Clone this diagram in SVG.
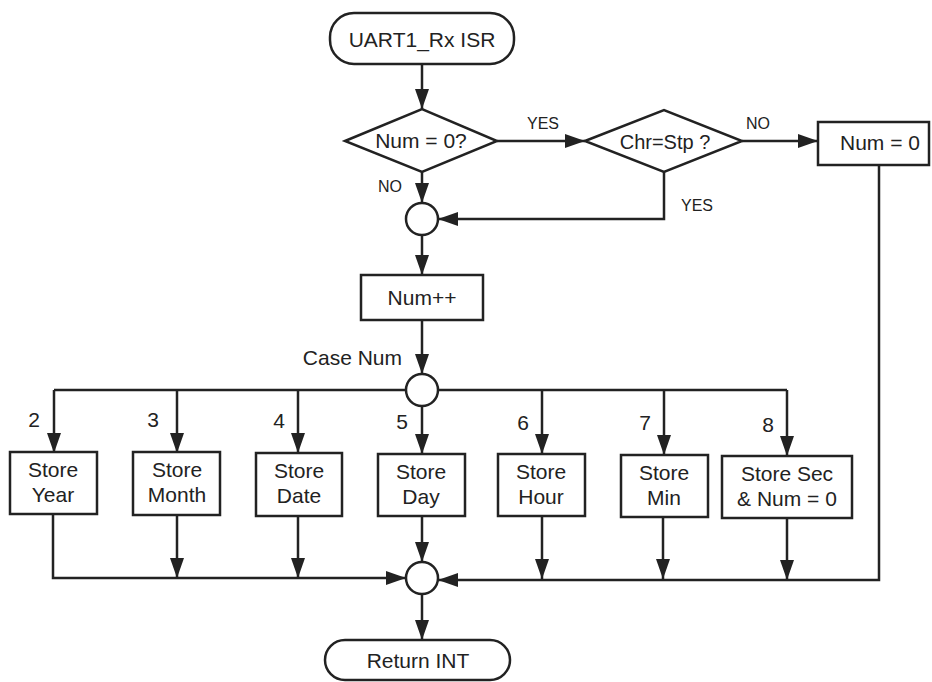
<svg xmlns="http://www.w3.org/2000/svg" width="932" height="682" viewBox="0 0 932 682">
  <style>
    .shape { fill: #ffffff; stroke: #222222; stroke-width: 2.5; }
    .wire { fill: none; stroke: #222222; stroke-width: 2.5; }
    .arrow { marker-end: url(#head); }
    text { font-family: "Liberation Sans", Arial, sans-serif; fill: #222222; }
    .t { font-size: 21px; text-anchor: middle; }
    .lbl { font-size: 16px; text-anchor: middle; }
  </style>
  <defs>
    <marker id="head" markerUnits="userSpaceOnUse" markerWidth="20" markerHeight="14" refX="20" refY="7" orient="auto">
      <path d="M0,0 L20,7 L0,14 z" fill="#222222"/>
    </marker>
  </defs>
  <rect width="932" height="682" fill="#ffffff"/>

  <!-- connectors -->
  <g id="connectors">
    <path class="wire arrow" d="M422,64 V109"/>
    <path class="wire arrow" d="M497,141 H585"/>
    <path class="wire arrow" d="M742,141 H818"/>
    <path class="wire arrow" d="M422,172 V203"/>
    <path class="wire arrow" d="M664,172 V219 H438"/>
    <path class="wire arrow" d="M422,235 V275"/>
    <path class="wire arrow" d="M422,320 V374"/>
    <!-- case branches -->
    <path class="wire" d="M406,390 H54"/>
    <path class="wire" d="M438,390 H787"/>
    <path class="wire arrow" d="M54,390 V453"/>
    <path class="wire arrow" d="M177,390 V453"/>
    <path class="wire arrow" d="M298,390 V453"/>
    <path class="wire arrow" d="M422,406 V454"/>
    <path class="wire arrow" d="M542,390 V454"/>
    <path class="wire arrow" d="M664,390 V455"/>
    <path class="wire arrow" d="M787,390 V456"/>
    <!-- merge -->
    <path class="wire arrow" d="M53,514 V578 H406"/>
    <path class="wire arrow" d="M177,515 V578"/>
    <path class="wire arrow" d="M298,516 V578"/>
    <path class="wire arrow" d="M422,516 V562"/>
    <path class="wire arrow" d="M542,516 V579"/>
    <path class="wire arrow" d="M663,517 V579"/>
    <path class="wire arrow" d="M787,518 V580"/>
    <path class="wire arrow" d="M879,165 V580 H438"/>
    <path class="wire arrow" d="M422,594 V640"/>
  </g>

  <!-- connector labels -->
  <g id="labels">
    <text class="lbl" x="543" y="129">YES</text>
    <text class="lbl" x="390" y="192">NO</text>
    <text class="lbl" x="758" y="129">NO</text>
    <text class="lbl" x="697" y="211">YES</text>
    <text class="t" x="402" y="365" style="text-anchor:end">Case Num</text>
    <text class="t" x="34" y="427">2</text>
    <text class="t" x="153" y="427">3</text>
    <text class="t" x="279" y="428">4</text>
    <text class="t" x="402" y="429">5</text>
    <text class="t" x="523" y="430">6</text>
    <text class="t" x="645" y="430">7</text>
    <text class="t" x="768" y="432">8</text>
  </g>

  <g id="start">
    <rect class="shape" x="330" y="13" width="184" height="51" rx="24"/>
    <text class="t" x="422" y="47">UART1_Rx ISR</text>
  </g>

  <g id="check-num">
    <polygon class="shape" points="345,141 422,109 497,141 422,172"/>
    <text class="t" x="421" y="148">Num = 0?</text>
  </g>

  <g id="check-chr">
    <polygon class="shape" points="585,141 664,110 742,141 664,172"/>
    <text class="t" x="665" y="149" style="font-size:20px">Chr=Stp ?</text>
  </g>

  <g id="reset-num">
    <rect class="shape" x="818" y="122" width="111" height="43"/>
    <text class="t" x="880" y="150">Num = 0</text>
  </g>

  <g id="join-1">
    <circle class="shape" cx="422" cy="219" r="16"/>
  </g>

  <g id="inc-num">
    <rect class="shape" x="361" y="275" width="122" height="45"/>
    <text class="t" x="422" y="305">Num++</text>
  </g>

  <g id="case-switch">
    <circle class="shape" cx="422" cy="390" r="16"/>
  </g>

  <g id="store-year">
    <rect class="shape" x="10" y="452" width="87" height="62"/>
    <text class="t" x="53" y="477">Store</text>
    <text class="t" x="53" y="502">Year</text>
  </g>

  <g id="store-month">
    <rect class="shape" x="133" y="452" width="87" height="63"/>
    <text class="t" x="177" y="477">Store</text>
    <text class="t" x="177" y="502">Month</text>
  </g>

  <g id="store-date">
    <rect class="shape" x="256" y="453" width="86" height="63"/>
    <text class="t" x="299" y="478">Store</text>
    <text class="t" x="299" y="503">Date</text>
  </g>

  <g id="store-day">
    <rect class="shape" x="378" y="454" width="87" height="62"/>
    <text class="t" x="421" y="479">Store</text>
    <text class="t" x="421" y="504">Day</text>
  </g>

  <g id="store-hour">
    <rect class="shape" x="498" y="454" width="87" height="62"/>
    <text class="t" x="541" y="479">Store</text>
    <text class="t" x="541" y="504">Hour</text>
  </g>

  <g id="store-min">
    <rect class="shape" x="621" y="455" width="87" height="62"/>
    <text class="t" x="664" y="480">Store</text>
    <text class="t" x="664" y="505">Min</text>
  </g>

  <g id="store-sec">
    <rect class="shape" x="722" y="456" width="130" height="62"/>
    <text class="t" x="787" y="481">Store Sec</text>
    <text class="t" x="787" y="506">&amp; Num = 0</text>
  </g>

  <g id="join-2">
    <circle class="shape" cx="422" cy="578" r="16"/>
  </g>

  <g id="end">
    <rect class="shape" x="325" y="640" width="185" height="40" rx="20"/>
    <text class="t" x="418" y="668">Return INT</text>
  </g>
</svg>
